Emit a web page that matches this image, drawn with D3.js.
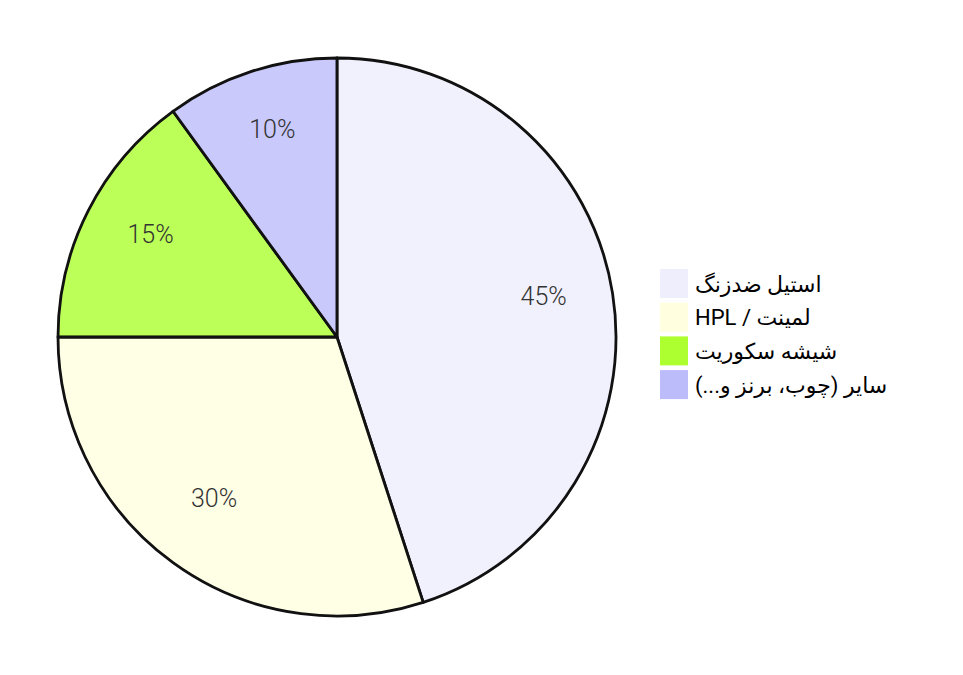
<!DOCTYPE html>
<html>
<head>
<meta charset="utf-8">
<script src="https://cdn.jsdelivr.net/npm/d3@7"></script>
<style>
  body { margin: 0; background: #fff; }
</style>
</head>
<body>
<div id="chart"></div>
<script>
var svgWidth = 963;
var svgHeight = 675;

// data
var categories = ["استیل ضدزنگ", "لمینت / HPL", "شیشه سکوریت", "سایر (چوب، برنز و...)"];
var shares = [45, 30, 15, 10];
var colors = ["#eeeefd", "#ffffe0", "#adff2f", "#bcbcfa"];

var cx = 337, cy = 337, radius = 279;

var svg = d3.select("#chart")
  .append("svg")
  .attr("width", svgWidth)
  .attr("height", svgHeight);

var pieGroup = svg.append("g")
  .attr("transform", `translate(${cx}, ${cy})`);

var pie = d3.pie().sort(null).value(d => d);
var arc = d3.arc().innerRadius(0).outerRadius(radius);
var labelArc = d3.arc().innerRadius(radius * 0.75).outerRadius(radius * 0.75);

var arcs = pie(shares);

pieGroup.selectAll("path")
  .data(arcs)
  .enter()
  .append("path")
  .attr("d", arc)
  .attr("fill", (d, i) => colors[i])
  .attr("fill-opacity", 0.8)
  .attr("stroke", "#111")
  .attr("stroke-width", 2.8)
  .attr("stroke-linejoin", "round");

pieGroup.selectAll("text")
  .data(arcs)
  .enter()
  .append("text")
  .attr("transform", d => `translate(${labelArc.centroid(d)})`)
  .attr("dy", "0.02em")
  .style("text-anchor", "middle")
  .style("font-family", "Roboto, sans-serif")
  .style("font-weight", 300)
  .style("font-size", "25px")
  .style("fill", "#333")
  .text(d => d.data + "%");

// legend
var legend = svg.append("g")
  .attr("transform", "translate(660, 269)");

var rows = legend.selectAll("g")
  .data(categories)
  .enter()
  .append("g")
  .attr("transform", (d, i) => `translate(0, ${i * 33.7})`);

rows.append("rect")
  .attr("width", 28)
  .attr("height", 29)
  .attr("fill", (d, i) => colors[i]);

rows.append("text")
  .attr("x", 35)
  .attr("y", 15)
  .attr("dy", "0.35em")
  .attr("direction", "rtl")
  .style("text-anchor", "end")
  .style("font-family", "Roboto, 'DejaVu Sans', sans-serif")
  .style("font-size", "22px")
  .style("fill", "#000")
  .text(d => d);
</script>
</body>
</html>
